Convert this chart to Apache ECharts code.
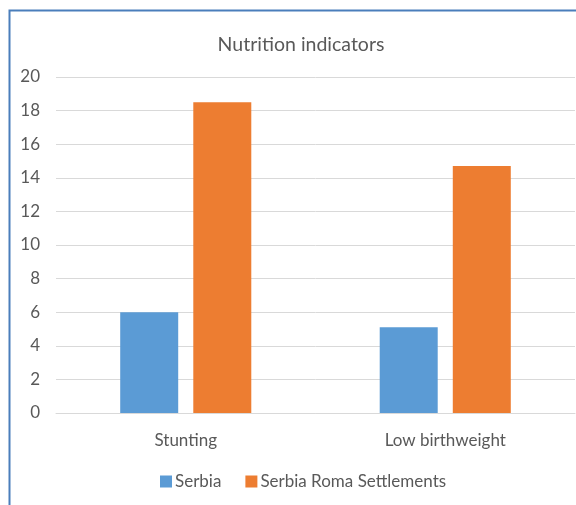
<!DOCTYPE html>
<html><head><meta charset="utf-8">
<script src="https://cdn.jsdelivr.net/npm/echarts@6/dist/echarts.min.js"></script>
<style>html,body{margin:0;padding:0;background:#fff}#c{width:576px;height:505px}</style>
</head><body><div id="c"></div>
<script>
const categories = ['Stunting', 'Low birthweight'];
const serbia = [6.0, 5.1];
const roma = [18.5, 14.7];
const yTicks = [0, 2, 4, 6, 8, 10, 12, 14, 16, 18, 20];
const seriesNames = ['Serbia', 'Serbia Roma Settlements'];

const chart = echarts.init(document.getElementById('c'), null, {renderer: 'canvas'});
const font = 'Lato, "Open Sans", sans-serif';
chart.setOption({
  animation: false,
  graphic: [{
    type: 'rect', shape: {x: 9.5, y: 10.5, width: 600, height: 520},
    style: {fill: 'none', stroke: '#4a7ebb', lineWidth: 2}, z: 100
  }],
  title: {
    text: 'Nutrition indicators', left: 296, top: 30, textAlign: 'center',
    textStyle: {fontFamily: font, fontSize: 19.5, fontWeight: 'normal', color: '#595959'}
  },
  legend: {
    data: seriesNames, left: 160, top: 473, itemWidth: 12, itemHeight: 12, itemGap: 24,
    icon: 'rect', padding: 0,
    textStyle: {fontFamily: font, fontSize: 17, color: '#595959', padding: [0, 0, 0, -2]}
  },
  grid: {left: 56, right: 1, top: 77, bottom: 92, containLabel: false},
  xAxis: {
    type: 'category', data: categories,
    axisLine: {show: true, lineStyle: {color: '#d9d9d9'}}, axisTick: {show: false},
    axisLabel: {fontFamily: font, fontSize: 17, color: '#595959', margin: 19}
  },
  yAxis: {
    type: 'value', min: 0, max: 20, interval: 2,
    axisLine: {show: false}, axisTick: {show: false},
    splitLine: {lineStyle: {color: '#d9d9d9'}},
    axisLabel: {fontFamily: font, fontSize: 17, color: '#595959', margin: 16,
      formatter: v => yTicks.includes(v) ? String(v) : ''}
  },
  series: [
    {name: seriesNames[0], type: 'bar', data: serbia, itemStyle: {color: '#5b9bd5'},
     barWidth: 58, barGap: '26%'},
    {name: seriesNames[1], type: 'bar', data: roma, itemStyle: {color: '#ed7d31'},
     barWidth: 58, barGap: '26%'}
  ]
});
</script></body></html>
